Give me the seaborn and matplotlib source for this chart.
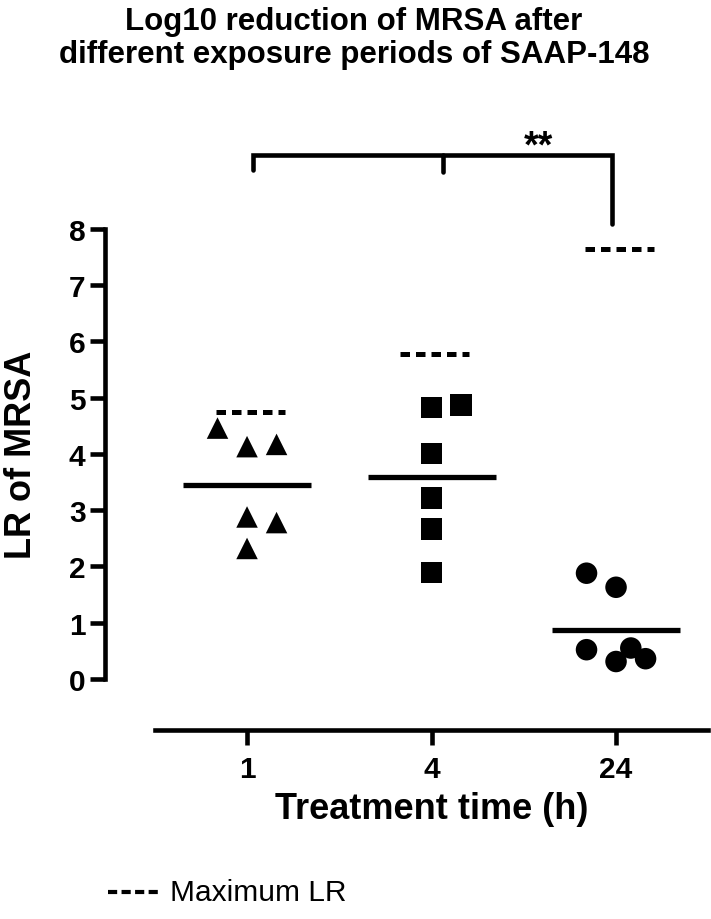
import numpy as np
import pandas as pd
import seaborn as sns
import matplotlib.pyplot as plt
from matplotlib.lines import Line2D

# data
times = ["1", "4", "24"]
lr_1h = [4.46, 4.13, 4.17, 2.88, 2.78, 2.32]
lr_4h = [4.83, 4.87, 4.01, 3.22, 2.67, 1.89]
lr_24h = [1.88, 1.63, 0.52, 0.31, 0.55, 0.36]
jitter_1h = [-0.16, 0.0, 0.16, 0.0, 0.16, 0.0]
jitter_4h = [0.0, 0.16, 0.0, 0.0, 0.0, 0.0]
jitter_24h = [-0.16, 0.0, -0.16, 0.0, 0.08, 0.16]
max_lr = [4.75, 5.77, 7.64]
y_ticks = [0, 1, 2, 3, 4, 5, 6, 7, 8]

sns.set_style("ticks")
plt.rcParams["font.family"] = ["Liberation Sans", "DejaVu Sans"]
plt.rcParams.update({"text.color": "black", "axes.labelcolor": "black",
                     "xtick.color": "black", "ytick.color": "black",
                     "axes.edgecolor": "black"})

rows = []
for i, (t, vals, jit) in enumerate(zip(times, [lr_1h, lr_4h, lr_24h],
                                       [jitter_1h, jitter_4h, jitter_24h])):
    for v, j in zip(vals, jit):
        rows.append({"time": t, "pos": i + j, "lr": v})
df = pd.DataFrame(rows)

fig = plt.figure(figsize=(7.11, 9.2), dpi=100)
ax = fig.add_axes([0.2177, 0.2059, 0.7785, 0.6664])

sns.scatterplot(data=df, x="pos", y="lr", style="time",
                markers={"1": "^", "4": "s", "24": "o"}, color="black",
                s=240, linewidth=0, legend=False, ax=ax, clip_on=False)

lw = 3.3
for i, t in enumerate(times):
    m = df.loc[df["time"] == t, "lr"].mean()
    ax.plot([i - 0.347, i + 0.347], [m, m], color="black", lw=3.8,
            solid_capstyle="butt")
    ax.plot([i - 0.17, i + 0.205], [max_lr[i], max_lr[i]], color="black",
            lw=3.6, linestyle=(0, (1.9, 1.2)))

# significance bracket
bx = [0.03, 1.06, 1.98]
ax.plot([bx[0], bx[0], bx[2], bx[2]], [9.04, 9.31, 9.31, 8.09],
        color="black", lw=lw, clip_on=False, solid_joinstyle="miter")
ax.plot([bx[1], bx[1]], [9.31, 9.02], color="black", lw=lw, clip_on=False)
ax.text(1.58, 9.28, "**", ha="center", va="baseline", fontsize=27,
        fontweight="bold")

ax.set_xlim(-0.5, 2.5)
ax.set_ylim(-0.9, 10)
ax.set_xticks(range(len(times)))
ax.set_xticklabels(times)
ax.set_yticks(y_ticks)
ax.set_yticklabels([str(v) for v in y_ticks])

sns.despine(ax=ax)
ax.spines["left"].set_position(("outward", 35.8))
ax.spines["left"].set_bounds(0, 8)
for sp in ["left", "bottom"]:
    ax.spines[sp].set_linewidth(lw)
ax.tick_params(axis="both", length=11, width=lw, labelsize=21.5, color="black")
ax.tick_params(axis="x", pad=7)
ax.tick_params(axis="y", pad=3)
for lab in ax.get_xticklabels() + ax.get_yticklabels():
    lab.set_fontweight("bold")

ax.set_xlabel("Treatment time (h)", fontsize=26, fontweight="bold", labelpad=6)
ax.set_ylabel("LR of MRSA", fontsize=26, fontweight="bold", va="center")
ax.yaxis.set_label_coords(-0.2416, 0.4495)

fig.text(0.498, 0.992, "Log10 reduction of MRSA after\ndifferent exposure periods of SAAP-148",
         ha="center", va="top", fontsize=22.5, fontweight="bold", linespacing=1.1)

# legend for the dashed lines
fig.add_artist(Line2D([108 / 711, 158 / 711], [1 - 893 / 920, 1 - 893 / 920],
                      color="black", lw=3, linestyle=(0, (2.2, 1.05))))
fig.text(170 / 711, 1 - 893 / 920, "Maximum LR", ha="left", va="center",
         fontsize=21.5)

fig.savefig("out.png", dpi=100)
